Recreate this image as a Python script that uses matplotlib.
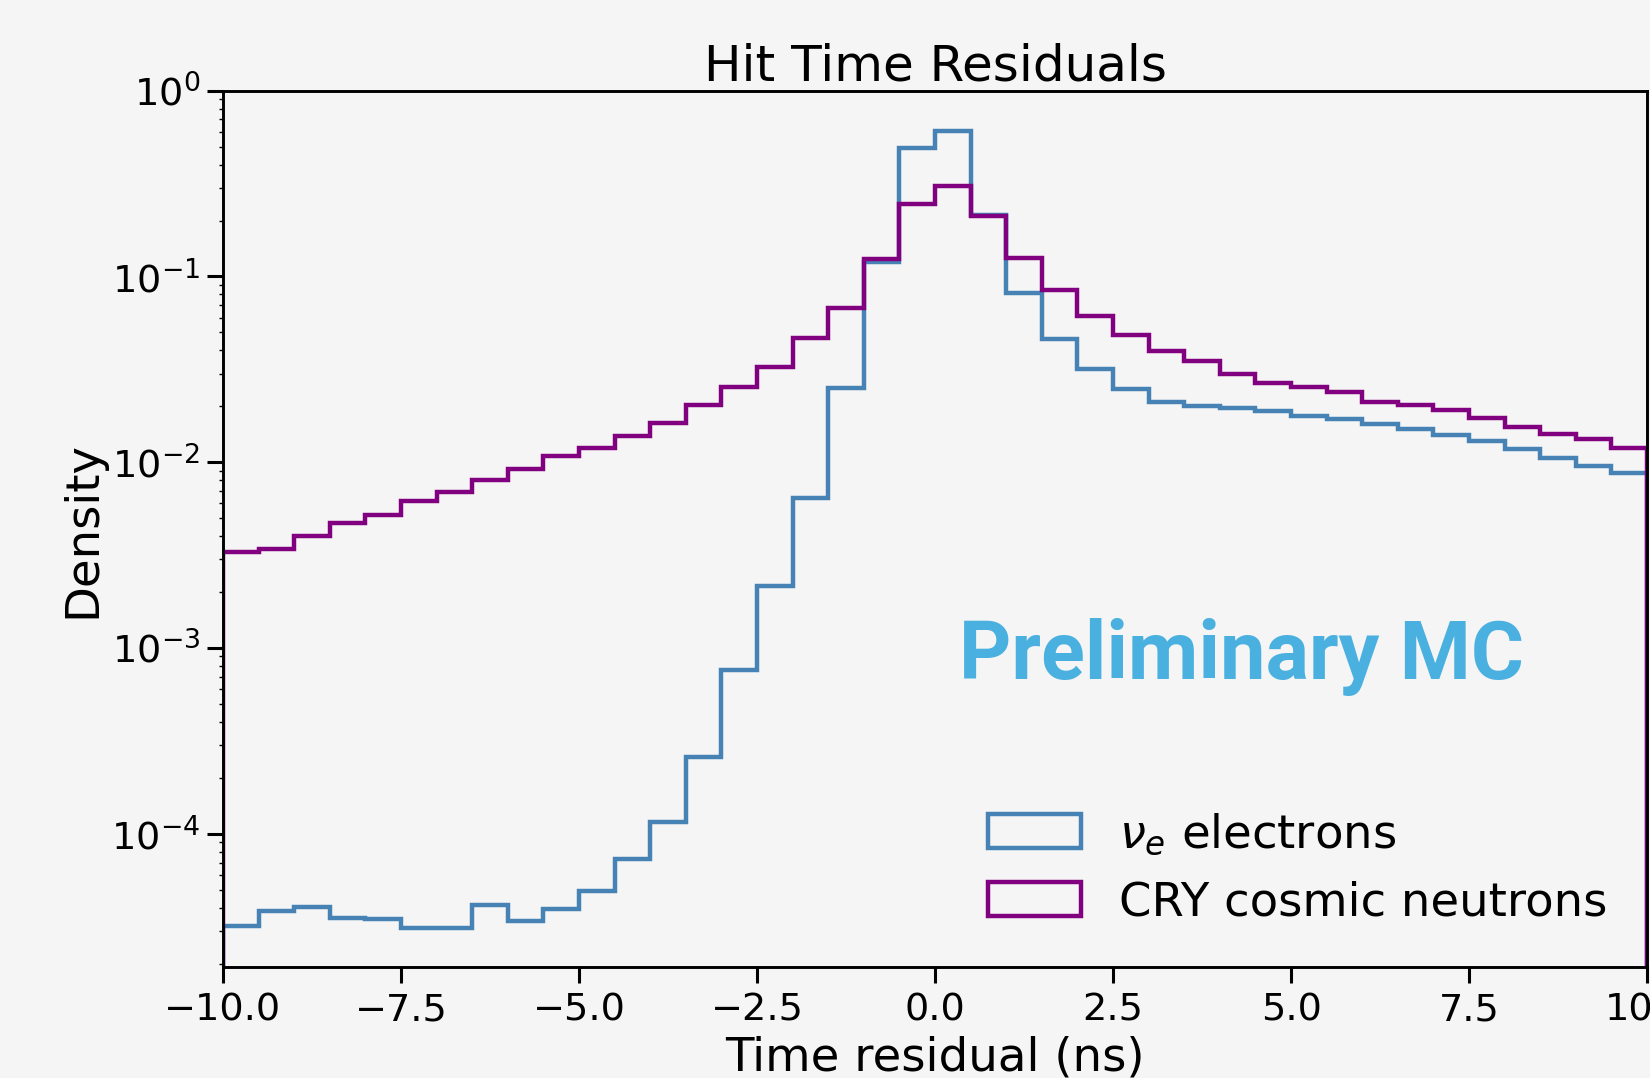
import numpy as np
import matplotlib
matplotlib.use("Agg")
import matplotlib.pyplot as plt

# bin edges of the histograms (0.5 ns wide, -10 .. 10 ns)
bin_edges = np.linspace(-10, 10, 41)

# densities per bin
nue_electrons = [
    3.17e-5, 3.85e-5, 4.01e-5, 3.54e-5, 3.48e-5, 3.12e-5, 3.12e-5, 4.13e-5,
    3.37e-5, 3.93e-5, 4.93e-5, 7.33e-5, 1.16e-4, 2.59e-4, 7.62e-4, 2.15e-3,
    6.43e-3, 2.52e-2, 0.120, 0.490, 0.609, 0.215, 0.0818, 0.0463,
    0.0317, 0.0248, 0.0212, 0.0201, 0.0196, 0.0188, 0.0178, 0.0170,
    0.0161, 0.0151, 0.0140, 0.0130, 0.0118, 0.0106, 0.0096, 0.00873,
]
cry_neutrons = [
    3.29e-3, 3.41e-3, 4.03e-3, 4.68e-3, 5.23e-3, 6.19e-3, 6.95e-3, 8.00e-3,
    9.24e-3, 0.01086, 0.01194, 0.01386, 0.01634, 0.0202, 0.0255, 0.0327,
    0.0465, 0.0674, 0.124, 0.246, 0.307, 0.212, 0.125, 0.0846,
    0.0615, 0.0487, 0.0397, 0.0352, 0.0300, 0.0267, 0.0254, 0.0238,
    0.0212, 0.0203, 0.0191, 0.0172, 0.0154, 0.0142, 0.0133, 0.0120,
]

bg = "#f5f5f5"


def plot_residuals():
    fig = plt.figure(figsize=(16.5, 10.78), dpi=100, facecolor=bg)
    ax = fig.add_axes([223 / 1650, 1 - 967.3 / 1078, 1424 / 1650, 876.6 / 1078])
    ax.set_facecolor(bg)

    centers = bin_edges[:-1] + 0.25
    ax.hist(centers, bins=bin_edges, weights=nue_electrons, histtype="step",
            color="steelblue", linewidth=3.2, label=r"$\nu_e$ electrons")
    ax.hist(centers, bins=bin_edges, weights=cry_neutrons, histtype="step",
            color="purple", linewidth=3.2, label="CRY cosmic neutrons")

    ax.set_yscale("log")
    ax.set_xlim(-10, 10)
    ax.set_ylim(1.91e-5, 1.0)

    for s in ax.spines.values():
        s.set_linewidth(2.1)
    ax.tick_params(axis="both", which="major", length=11.5, width=2.2,
                   labelsize=27.5)
    ax.tick_params(axis="x", pad=7)
    ax.tick_params(axis="y", pad=5)
    ax.tick_params(axis="y", which="minor", length=3, width=1.0)

    ax.set_title("Hit Time Residuals", fontsize=36, pad=7)
    ax.set_xlabel("Time residual (ns)", fontsize=33.6, labelpad=5)
    ax.set_ylabel("Density", fontsize=33.5, labelpad=4)

    ax.legend(loc="upper left", bbox_to_anchor=(0.5375, 0.178), frameon=False,
              fontsize=33.5, borderpad=0, borderaxespad=0, labelspacing=0.5,
              handleheight=0.75)

    ax.text(0.517, 0.329, "Preliminary MC", transform=ax.transAxes,
            ha="left", va="baseline", fontsize=58.5, fontweight="bold",
            family=["Roboto", "DejaVu Sans"], color="#49b0e0")

    fig.savefig("out.png", dpi=100, facecolor=bg)


if __name__ == "__main__":
    plot_residuals()
